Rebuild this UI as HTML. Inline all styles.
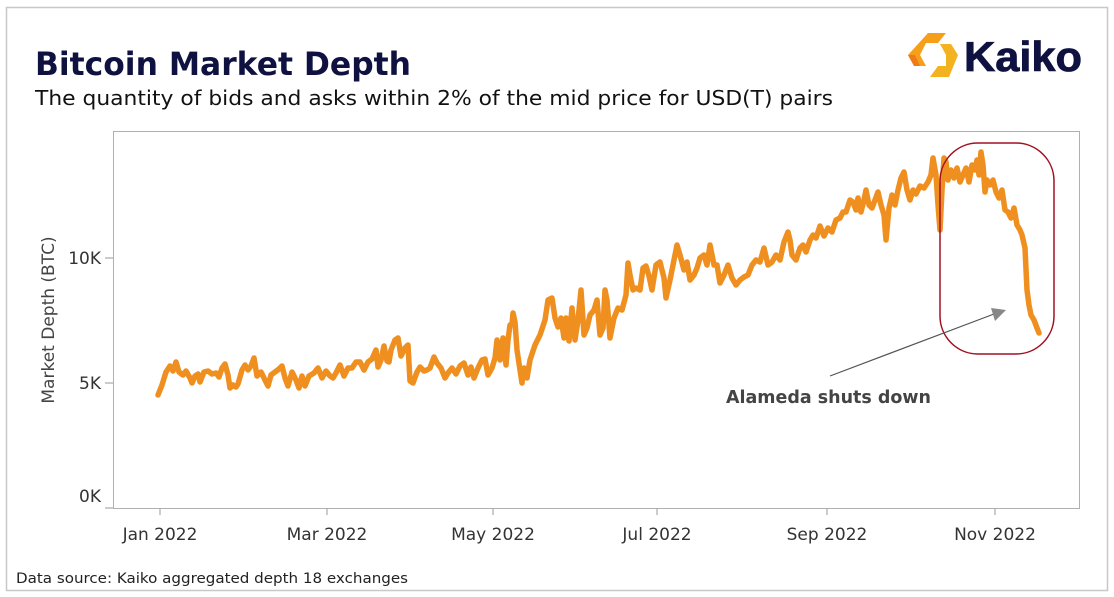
<!DOCTYPE html>
<html><head><meta charset="utf-8"><style>
html,body{margin:0;padding:0;background:#fff;}
svg{display:block;font-family:"DejaVu Sans","Liberation Sans",sans-serif;}
</style></head><body>
<svg width="1114" height="597" viewBox="0 0 1114 597" xmlns="http://www.w3.org/2000/svg">
<rect x="0" y="0" width="1114" height="597" fill="#fff"/>
<rect x="6.5" y="7.5" width="1101" height="583" fill="none" stroke="#c8c8c8" stroke-width="1.5"/>
<text x="35" y="75" font-size="32" font-weight="bold" fill="#0f1240" textLength="376" lengthAdjust="spacingAndGlyphs">Bitcoin Market Depth</text>
<text x="35" y="105" font-size="20" fill="#111" textLength="798" lengthAdjust="spacingAndGlyphs">The quantity of bids and asks within 2% of the mid price for USD(T) pairs</text>
<g>
<polygon points="928,33 946,33 938,43 926,43 920,55 926,66 914,66 908,55" fill="#f6a01a"/>
<polygon points="940,44 951,44 958,55 949,77 930,77 938,66 946,66 946,55" fill="#f3b21f"/>
<polygon points="908,55 914,66 920,66 915,55" fill="#ee7a1a"/>
</g>
<text x="964" y="71" font-size="42" font-weight="bold" fill="#0f1240" stroke="#0f1240" stroke-width="0.8" textLength="118" lengthAdjust="spacingAndGlyphs" font-family="Liberation Sans, sans-serif">Kaiko</text>
<rect x="113.5" y="131.5" width="966" height="377" fill="none" stroke="#b0b0b0" stroke-width="1"/>
<g stroke="#999" stroke-width="1">
<line x1="105" y1="258" x2="113" y2="258"/><line x1="105" y1="383" x2="113" y2="383"/><line x1="105" y1="508" x2="113" y2="508"/>
<line x1="160" y1="509" x2="160" y2="515"/><line x1="327" y1="509" x2="327" y2="515"/><line x1="493" y1="509" x2="493" y2="515"/><line x1="657" y1="509" x2="657" y2="515"/><line x1="827" y1="509" x2="827" y2="515"/><line x1="995" y1="509" x2="995" y2="515"/>
</g>
<g font-size="17" fill="#333" text-anchor="end">
<text x="101" y="264">10K</text><text x="101" y="389">5K</text><text x="101" y="502">0K</text>
</g>
<g font-size="17" fill="#333" text-anchor="middle">
<text x="160" y="540">Jan 2022</text><text x="327" y="540">Mar 2022</text><text x="493" y="540">May 2022</text><text x="657" y="540">Jul 2022</text><text x="827" y="540">Sep 2022</text><text x="995" y="540">Nov 2022</text>
</g>
<text transform="translate(54,320) rotate(-90)" font-size="17" fill="#444" text-anchor="middle">Market Depth (BTC)</text>
<polyline fill="none" stroke="#ef8f1f" stroke-width="5.5" stroke-linejoin="round" stroke-linecap="round" points="158,395 162,385 166,372 170,366 173,371 176,362 179,372 183,375 186,371 190,378 192,383 195,376 198,374 200,382 204,372 208,371 212,374 216,373 219,377 222,368 225,364 228,375 230,388 233,385 236,387 238,384 242,370 245,365 248,370 251,366 254,358 257,376 261,372 265,380 268,386 271,375 275,372 279,369 282,366 285,378 288,386 292,372 296,380 299,388 302,376 305,386 309,376 314,373 318,368 322,378 326,371 330,376 333,378 336,373 340,365 344,376 348,368 352,368 356,362 360,362 364,370 368,362 372,359 376,350 378,367 381,360 384,346 387,361 389,362 391,350 395,340 398,338 401,356 405,348 408,345 410,381 413,383 417,372 420,367 424,371 427,370 430,368 434,357 437,363 441,368 445,378 448,373 452,368 456,374 460,366 464,363 468,375 471,367 474,378 478,368 482,360 485,359 488,375 492,368 495,358 497,340 500,360 503,338 506,365 508,340 510,325 512,324 513,313 515,322 517,350 520,370 522,383 524,368 527,378 530,360 535,345 540,335 545,320 548,300 552,298 555,318 558,327 561,318 564,338 566,318 569,341 572,308 575,340 578,320 581,290 584,335 587,328 590,315 594,310 597,300 600,335 603,328 605,290 607,300 610,338 614,318 618,308 622,310 626,295 628,263 630,275 633,290 636,288 640,290 643,268 646,266 649,276 652,290 656,265 660,262 664,278 666,298 670,280 674,260 677,245 680,255 684,270 687,262 690,280 694,275 697,268 700,258 704,255 707,265 710,245 714,265 717,265 720,283 724,275 728,265 732,278 736,285 740,280 744,277 748,275 752,265 756,260 760,262 764,248 768,265 772,262 776,255 780,260 784,242 788,232 790,240 792,255 796,260 800,248 803,245 806,252 810,240 813,235 816,238 820,226 824,236 828,228 832,232 836,220 840,218 843,212 846,212 850,200 853,202 856,210 858,198 861,212 864,200 866,190 869,205 872,208 875,200 878,192 881,205 884,215 886,240 889,208 892,195 895,205 898,190 901,178 904,172 907,190 910,200 913,190 916,194 920,186 924,188 928,182 931,175 933,158 936,175 938,205 940,230 942,190 944,158 946,162 948,180 951,170 954,178 957,168 960,182 963,175 966,168 969,182 972,165 975,170 977,160 979,175 981,152 983,165 985,192 987,180 990,185 993,180 996,192 999,198 1002,190 1005,210 1008,212 1011,218 1014,208 1017,225 1020,230 1022,235 1025,248 1027,290 1029,305 1031,315 1034,320 1037,328 1039,333"/>
<rect x="940" y="143" width="114" height="211" rx="38" ry="38" fill="none" stroke="#a01020" stroke-width="1.5"/>
<line x1="830" y1="376" x2="994" y2="314" stroke="#555" stroke-width="1.2"/>
<polygon points="1006,310 991,308 995,321" fill="#888"/>
<text x="726" y="403" font-size="18" font-weight="bold" fill="#444" textLength="205" lengthAdjust="spacingAndGlyphs">Alameda shuts down</text>
<text x="16" y="583" font-size="14.5" fill="#222" textLength="392" lengthAdjust="spacingAndGlyphs">Data source: Kaiko aggregated depth 18 exchanges</text>
</svg>
</body></html>
